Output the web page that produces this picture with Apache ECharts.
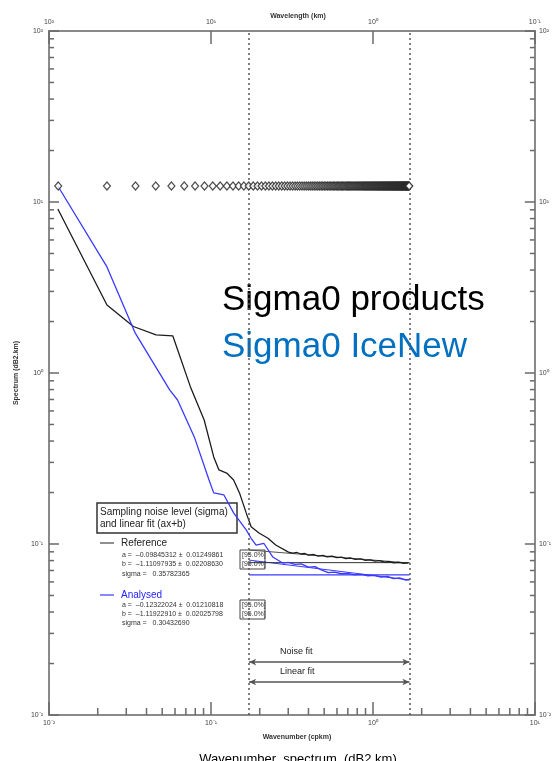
<!DOCTYPE html>
<html><head><meta charset="utf-8">
<script src="https://cdn.jsdelivr.net/npm/echarts@6/dist/echarts.min.js"></script>
<style>html,body{margin:0;padding:0;background:#fff}#c{width:554px;height:761px}</style>
</head><body><div id="c"></div>
<script>
// ---- data ----
const diamondK = [0.0114,0.0228,0.0342,0.0456,0.057,0.0684,0.0798,0.0912,0.1026,0.114,0.1254,0.1368,0.1482,0.1596,0.171,0.1824,0.1938,0.2052,0.2166,0.228,0.2394,0.2508,0.2622,0.2736,0.285,0.2964,0.3078,0.3192,0.3306,0.342,0.3534,0.3648,0.3762,0.3876,0.399,0.4104,0.4218,0.4332,0.4446,0.456,0.4674,0.4788,0.4902,0.5016,0.513,0.5244,0.5358,0.5472,0.5586,0.57,0.5814,0.5928,0.6042,0.6156,0.627,0.6384,0.6498,0.6612,0.6726,0.684,0.6954,0.7068,0.7182,0.7296,0.741,0.7524,0.7638,0.7752,0.7866,0.798,0.8094,0.8208,0.8322,0.8436,0.855,0.8664,0.8778,0.8892,0.9006,0.912,0.9234,0.9348,0.9462,0.9576,0.969,0.9804,0.9918,1.0032,1.0146,1.026,1.0374,1.0488,1.0602,1.0716,1.083,1.0944,1.1058,1.1172,1.1286,1.14,1.1514,1.1628,1.1742,1.1856,1.197,1.2084,1.2198,1.2312,1.2426,1.254,1.2654,1.2768,1.2882,1.2996,1.311,1.3224,1.3338,1.3452,1.3566,1.368,1.3794,1.3908,1.4022,1.4136,1.425,1.4364,1.4478,1.4592,1.4706,1.482,1.4934,1.5048,1.5162,1.5276,1.539,1.5504,1.5618,1.5732,1.5846,1.596,1.6074,1.6188,1.6302,1.6416,1.653,1.6644,1.6758];
const diamondLevel = 12.4;

const referenceSpectrum = [
  [0.01134,9.1],[0.0228,2.50],[0.0332,1.87],[0.0458,1.67],[0.0581,1.65],[0.0746,0.832],
  [0.0908,0.531],[0.104,0.323],[0.112,0.271],[0.125,0.260],[0.138,0.237],[0.150,0.199],
  [0.165,0.152],[0.177,0.126],[0.198,0.116],[0.225,0.108],[0.251,0.0987],[0.301,0.0897],
  [0.32,0.0885],[0.34,0.0892],[0.36,0.0874],[0.38,0.0880],[0.40,0.0862],[0.43,0.0868],
  [0.46,0.0850],[0.49,0.0857],[0.52,0.0842],[0.56,0.0848],[0.60,0.0832],[0.64,0.0838],
  [0.68,0.0822],[0.73,0.0828],[0.78,0.0812],[0.84,0.0818],[0.90,0.0803],[0.96,0.0808],
  [1.03,0.0793],[1.10,0.0799],[1.18,0.0784],[1.26,0.0790],[1.35,0.0776],[1.45,0.0782],
  [1.55,0.0770],[1.65,0.0776]
];
const analysedSpectrum = [
  [0.01134,12.4],[0.0228,4.17],[0.0341,1.71],[0.0556,0.796],[0.0622,0.695],[0.0789,0.423],
  [0.0973,0.237],[0.104,0.199],[0.120,0.194],[0.138,0.152],[0.165,0.121],[0.177,0.108],
  [0.190,0.0985],[0.212,0.101],[0.241,0.0839],[0.277,0.0774],[0.30,0.0780],[0.33,0.0760],
  [0.36,0.0765],[0.40,0.0733],[0.44,0.0738],[0.48,0.0705],[0.53,0.0680],[0.58,0.0684],
  [0.64,0.0670],[0.70,0.0674],[0.77,0.0660],[0.85,0.0664],[0.93,0.0652],[1.02,0.0656],
  [1.12,0.0640],[1.23,0.0646],[1.34,0.0628],[1.46,0.0633],[1.58,0.0616],[1.68,0.0620]
];
const fitRange = [0.172, 1.68];
const refLinearFit = [0.0922, 0.0774];
const anaLinearFit = [0.0805, 0.0616];
const refNoiseLevel = 0.0778;
const anaNoiseLevel = 0.0659;
const arrowLevels = [0.0204, 0.0156];
const xMinorTicks = [0.02,0.03,0.04,0.05,0.06,0.07,0.08,0.09,0.2,0.3,0.4,0.5,0.6,0.7,0.8,0.9,2,3,4,5,6,7,8,9];
const yMinorTicks = [0.02,0.03,0.04,0.05,0.06,0.07,0.08,0.09,0.2,0.3,0.4,0.5,0.6,0.7,0.8,0.9,2,3,4,5,6,7,8,9,20,30,40,50,60,70,80,90];

// ---- helpers ----
const SUP = {'-':'\u207B','0':'\u2070','1':'\u00B9','2':'\u00B2','3':'\u00B3'};
function pow10Label(e){ return '10' + String(e).split('').map(c=>SUP[c]).join(''); }
const FONT = 'Liberation Sans';
const axisGray = '#8a8a8a';
const tickGray = '#6a6a6a';
const blue = '#3a3aff';

const chart = echarts.init(document.getElementById('c'), null, {renderer:'canvas'});

function baseAxis(extra){
  return Object.assign({
    type:'log', logBase:10,
    axisLine:{show:true, lineStyle:{color:axisGray, width:2}},
    splitLine:{show:false},
    minorTick:{show:false},
    axisLabel:{fontFamily:FONT, fontSize:7, color:'#444', showMinLabel:true, showMaxLabel:true}
  }, extra);
}

const option = {
  animation:false,
  backgroundColor:'#fff',
  grid:{left:49, right:10, top:31, bottom:46},
  xAxis:[
    baseAxis({min:0.01, max:10, position:'bottom',
      axisTick:{show:true, inside:true, length:13, lineStyle:{color:tickGray, width:1.5}},
      axisLabel:{fontFamily:FONT, fontSize:7, color:'#444', margin:5, showMinLabel:true, showMaxLabel:true,
        formatter:v=>pow10Label(Math.round(Math.log10(v)))}}),
    baseAxis({min:0.01, max:10, position:'top',
      axisTick:{show:true, inside:true, length:13, lineStyle:{color:tickGray, width:1.5}},
      axisLabel:{fontFamily:FONT, fontSize:7, color:'#444', margin:5, showMinLabel:true, showMaxLabel:true,
        formatter:v=>pow10Label(-Math.round(Math.log10(v)))}})
  ],
  yAxis:[
    baseAxis({min:0.01, max:100, position:'left',
      name:'Spectrum (dB2.km)', nameLocation:'middle', nameGap:28, nameRotate:90,
      nameTextStyle:{fontFamily:FONT, fontSize:7, fontWeight:'bold', color:'#333'},
      axisTick:{show:true, inside:true, length:10, lineStyle:{color:tickGray, width:1.5}},
      axisLabel:{fontFamily:FONT, fontSize:7, color:'#444', margin:6, showMinLabel:true, showMaxLabel:true,
        formatter:v=>pow10Label(Math.round(Math.log10(v)))}}),
    baseAxis({min:0.01, max:100, position:'right',
      axisTick:{show:true, inside:true, length:10, lineStyle:{color:tickGray, width:1.5}},
      axisLabel:{fontFamily:FONT, fontSize:7, color:'#444', margin:4, showMinLabel:true, showMaxLabel:true,
        formatter:v=>pow10Label(Math.round(Math.log10(v)))}})
  ],
  series:[
    {type:'line', name:'Reference', data:referenceSpectrum, showSymbol:false, z:4,
      lineStyle:{color:'#1c1c1c', width:1.3},
      markLine:{silent:true, symbol:'none', label:{show:false},
        lineStyle:{color:'#555', type:[2,3], width:1.5},
        data:[{xAxis:fitRange[0]},{xAxis:fitRange[1]}]}},
    {type:'line', name:'Analysed', data:analysedSpectrum, showSymbol:false, z:5,
      lineStyle:{color:blue, width:1.3}},
    {type:'line', data:[[fitRange[0],refLinearFit[0]],[fitRange[1],refLinearFit[1]]], showSymbol:false,
      lineStyle:{color:'#555', width:1}},
    {type:'line', data:[[fitRange[0],anaLinearFit[0]],[fitRange[1],anaLinearFit[1]]], showSymbol:false,
      lineStyle:{color:blue, width:1}},
    {type:'line', data:[[fitRange[0],refNoiseLevel],[fitRange[1],refNoiseLevel]], showSymbol:false,
      lineStyle:{color:'#333', width:1}},
    {type:'line', data:[[fitRange[0],anaNoiseLevel],[fitRange[1],anaNoiseLevel]], showSymbol:false,
      lineStyle:{color:blue, width:1.2}},
    {type:'scatter', data:diamondK.map(k=>[k,diamondLevel]), symbol:'diamond', symbolSize:[7,8], z:6,
      itemStyle:{color:'#fff', borderColor:'#222', borderWidth:1.2}},
    {type:'line', data:[], markLine:{silent:true, symbol:['arrow','arrow'], symbolSize:[5,7], label:{show:false},
      lineStyle:{color:'#555', type:'solid', width:1.5},
      data:arrowLevels.map(l=>[{coord:[fitRange[0],l]},{coord:[fitRange[1],l]}])}},
    {type:'custom', silent:true, data:xMinorTicks.map(v=>[v,1]), z:3,
      renderItem:function(params, api){
        const cs = params.coordSys;
        const p = api.coord([xMinorTicks[params.dataIndex], 1]);
        const yb = cs.y + cs.height;
        return {type:'line', shape:{x1:p[0], y1:yb, x2:p[0], y2:yb-7}, style:{stroke:tickGray, lineWidth:1.5}};
      }},
    {type:'custom', silent:true, data:yMinorTicks.map(v=>[1,v]), z:3,
      renderItem:function(params, api){
        const cs = params.coordSys;
        const p = api.coord([1, yMinorTicks[params.dataIndex]]);
        return {type:'group', children:[
          {type:'line', shape:{x1:cs.x, y1:p[1], x2:cs.x+5, y2:p[1]}, style:{stroke:tickGray, lineWidth:1.5}},
          {type:'line', shape:{x1:cs.x+cs.width, y1:p[1], x2:cs.x+cs.width-5, y2:p[1]}, style:{stroke:tickGray, lineWidth:1.5}}
        ]};
      }}
  ],
  graphic:[
    {type:'text', x:298, y:16, style:{text:'Wavelength (km)', font:'bold 7px '+FONT, fill:'#333', textAlign:'center', textVerticalAlign:'middle'}},
    {type:'text', x:297, y:737, style:{text:'Wavenumber (cpkm)', font:'bold 7px '+FONT, fill:'#333', textAlign:'center', textVerticalAlign:'middle'}},
    {type:'text', x:298, y:753, style:{text:'Wavenumber  spectrum  (dB2.km)', font:'13px '+FONT, fill:'#000', textAlign:'center', textVerticalAlign:'top'}},
    {type:'text', x:222, y:300, style:{text:'Sigma0 products', font:'35px '+FONT, fill:'#000', textAlign:'left', textVerticalAlign:'middle'}},
    {type:'text', x:222, y:347, style:{text:'Sigma0 IceNew', font:'35px '+FONT, fill:'#0070C0', textAlign:'left', textVerticalAlign:'middle'}},
    {type:'rect', shape:{x:97, y:503, width:140, height:30}, style:{fill:'none', stroke:'#333', lineWidth:1.5}},
    {type:'text', x:100, y:512, style:{text:'Sampling noise level (sigma)', font:'10px '+FONT, fill:'#222', textVerticalAlign:'middle'}},
    {type:'text', x:100, y:524, style:{text:'and linear fit (ax+b)', font:'10px '+FONT, fill:'#222', textVerticalAlign:'middle'}},
    {type:'line', shape:{x1:100, y1:543, x2:114, y2:543}, style:{stroke:'#444', lineWidth:1.2}},
    {type:'text', x:121, y:543, style:{text:'Reference', font:'10px '+FONT, fill:'#222', textVerticalAlign:'middle'}},
    {type:'text', x:122, y:555, style:{text:'a =  \u20130.09845312 \u00B1  0.01249861', font:'7px '+FONT, fill:'#333', textVerticalAlign:'middle'}},
    {type:'text', x:122, y:564, style:{text:'b =  \u20131.11097935 \u00B1  0.02208630', font:'7px '+FONT, fill:'#333', textVerticalAlign:'middle'}},
    {type:'text', x:122, y:574, style:{text:'sigma =   0.35782365', font:'7px '+FONT, fill:'#333', textVerticalAlign:'middle'}},
    {type:'text', x:242, y:555, style:{text:'[95.0%]', font:'7px '+FONT, fill:'#333', textVerticalAlign:'middle'}},
    {type:'text', x:242, y:564, style:{text:'[95.0%]', font:'7px '+FONT, fill:'#333', textVerticalAlign:'middle'}},
    {type:'rect', shape:{x:240, y:550, width:25, height:19}, style:{fill:'none', stroke:'#444', lineWidth:1}},
    {type:'line', shape:{x1:100, y1:595, x2:114, y2:595}, style:{stroke:blue, lineWidth:1.2}},
    {type:'text', x:121, y:595, style:{text:'Analysed', font:'10px '+FONT, fill:'#2222ff', textVerticalAlign:'middle'}},
    {type:'text', x:122, y:605, style:{text:'a =  \u20130.12322024 \u00B1  0.01210818', font:'7px '+FONT, fill:'#333', textVerticalAlign:'middle'}},
    {type:'text', x:122, y:614, style:{text:'b =  \u20131.11922910 \u00B1  0.02025798', font:'7px '+FONT, fill:'#333', textVerticalAlign:'middle'}},
    {type:'text', x:122, y:623, style:{text:'sigma =   0.30432690', font:'7px '+FONT, fill:'#333', textVerticalAlign:'middle'}},
    {type:'text', x:242, y:605, style:{text:'[95.0%]', font:'7px '+FONT, fill:'#333', textVerticalAlign:'middle'}},
    {type:'text', x:242, y:614, style:{text:'[95.0%]', font:'7px '+FONT, fill:'#333', textVerticalAlign:'middle'}},
    {type:'rect', shape:{x:240, y:600, width:25, height:19}, style:{fill:'none', stroke:'#444', lineWidth:1}},
    {type:'text', x:280, y:652, style:{text:'Noise fit', font:'9px '+FONT, fill:'#222', textVerticalAlign:'middle'}},
    {type:'text', x:280, y:672, style:{text:'Linear fit', font:'9px '+FONT, fill:'#222', textVerticalAlign:'middle'}}
  ]
};
chart.setOption(option);
</script>
</body></html>
